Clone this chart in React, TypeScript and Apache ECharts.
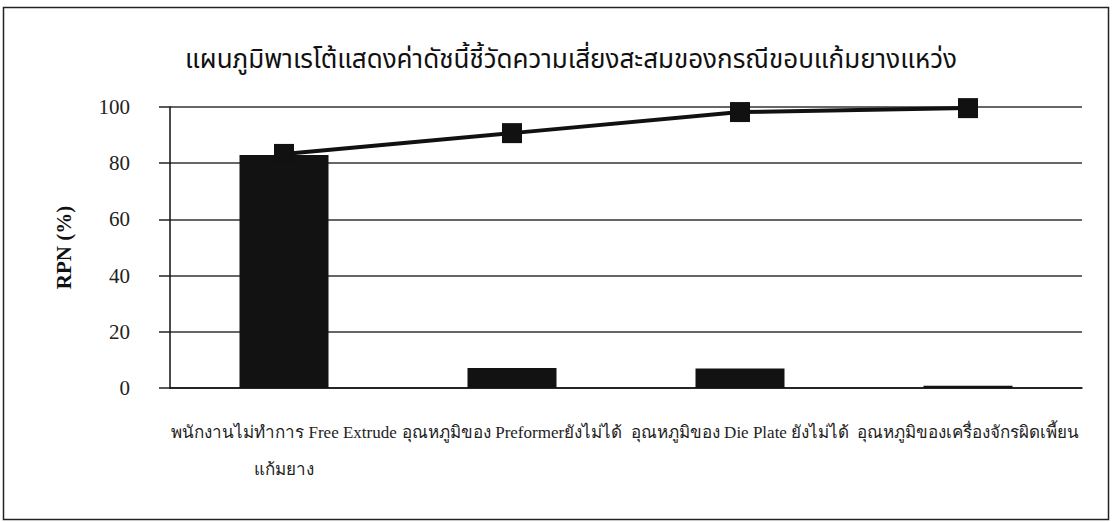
import React, { useEffect, useRef } from "react";
import * as echarts from "echarts";

const titleText = "แผนภูมิพาเรโต้แสดงค่าดัชนี้ชี้วัดความเสี่ยงสะสมของกรณีขอบแก้มยางแหว่ง";
const categories = [
  "พนักงานไม่ทำการ Free Extrude\nแก้มยาง",
  "อุณหภูมิของ Preformerยังไม่ได้",
  "อุณหภูมิของ Die Plate ยังไม่ได้",
  "อุณหภูมิของเครื่องจักรผิดเพี้ยน",
];
const rpnPercent = [82.9, 7.1, 6.9, 0.8];
const cumulativePercent = [83.3, 90.7, 98.2, 99.6];
const yAxisName = "RPN (%)";

const serif = "'Liberation Serif', 'DejaVu Serif', serif";

export default function App() {
  const ref = useRef<HTMLDivElement>(null);
  useEffect(() => {
    document.body.style.margin = "0";
    const chart = echarts.init(ref.current!, null, { renderer: "svg" });
    chart.setOption({
      animation: false,
      backgroundColor: "#ffffff",
      title: {
        text: titleText,
        left: 566,
        textAlign: "center",
        top: 42,
        textStyle: {
          fontFamily: "'Noto Sans Thai', 'Noto Sans', sans-serif",
          fontSize: 26,
          fontWeight: "normal",
          color: "#111",
        },
      },
      graphic: [
        {
          type: "rect",
          shape: { x: 3.5, y: 7.5, width: 1105, height: 512 },
          style: { fill: "none", stroke: "#222", lineWidth: 1.5 },
          silent: true,
        },
      ],
      grid: { left: 170, right: 30, top: 107, bottom: 134, containLabel: false },
      xAxis: {
        type: "category",
        data: categories,
        axisLine: { lineStyle: { color: "#111", width: 1.5 } },
        axisTick: { show: false },
        axisLabel: {
          interval: 0,
          color: "#222",
          fontFamily: serif,
          fontSize: 17,
          margin: 26,
          lineHeight: 37,
          overflow: "none",
        },
      },
      yAxis: {
        type: "value",
        min: 0,
        max: 100,
        interval: 20,
        name: yAxisName,
        nameLocation: "middle",
        nameGap: 96,
        nameRotate: 90,
        nameTextStyle: {
          fontFamily: serif,
          fontSize: 21,
          fontWeight: "bold",
          color: "#111",
        },
        axisLine: { show: true, lineStyle: { color: "#111", width: 1.5 } },
        axisTick: { show: true, length: 11, lineStyle: { color: "#222", width: 1.5 } },
        axisLabel: {
          fontFamily: serif,
          fontSize: 21,
          color: "#222",
          margin: 40,
        },
        splitLine: { show: true, lineStyle: { color: "#333", width: 1.5 } },
      },
      series: [
        {
          type: "bar",
          data: rpnPercent,
          barWidth: 89,
          itemStyle: { color: "#121212" },
        },
        {
          type: "line",
          data: cumulativePercent,
          symbol: "rect",
          symbolSize: 20,
          lineStyle: { color: "#111", width: 4 },
          itemStyle: { color: "#111" },
        },
      ],
    });
    return () => chart.dispose();
  }, []);
  return <div ref={ref} style={{ width: 1112, height: 522 }} />;
}
